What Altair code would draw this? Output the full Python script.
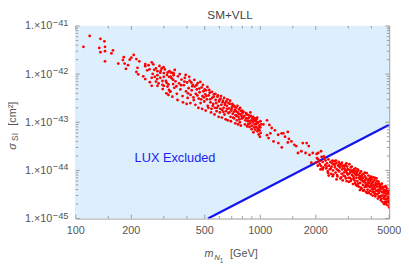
import altair as alt
import pandas as pd

# ---------------- data ----------------
# scan points: m_N1 [GeV] and sigma_SI [cm^2]
mass_a = [110, 119, 136, 143, 134, 144, 144, 136, 159, 156, 144]
sigma_a = [3.7e-42, 6.2e-42, 5.4e-42, 4.8e-42, 3.5e-42, 3.7e-42, 3.0e-42, 2.85e-42, 3.1e-42, 2.7e-42, 1.84e-42]

mass_b = [182, 206, 200, 196, 213, 180, 221, 170, 184, 192, 187, 238, 258, 248, 238, 216, 213, 218, 251, 261, 258, 238]
sigma_b = [2.25e-42, 2.5e-42, 2.2e-42, 2.0e-42, 2.05e-42, 1.96e-42, 1.84e-42, 1.66e-42, 1.66e-42, 1.53e-42, 1.29e-42,
           1.62e-42, 1.76e-42, 1.53e-42, 1.46e-42, 1.35e-42, 1.11e-42, 9.9e-43, 1.26e-42, 1.01e-42, 8.4e-43, 7.9e-43]

mass_c = [272, 266, 284, 277, 292, 299, 287, 300, 315, 328, 339, 277, 276, 287, 300, 320, 339, 272, 295, 308,
          337, 314, 300, 295, 277, 258, 320, 310, 326, 337]
sigma_c = [1.31e-42, 1.23e-42, 1.48e-42, 1.15e-42, 1.31e-42, 1.39e-42, 1.07e-42, 1.05e-42, 1.08e-42, 1.07e-42,
           1.04e-42, 9.5e-43, 7.9e-43, 8.4e-43, 8.8e-43, 8.8e-43, 9.5e-43, 7.0e-43, 7.2e-43, 7.2e-43,
           7.6e-43, 5.5e-43, 5.7e-43, 6.0e-43, 5.7e-43, 5.7e-43, 4.7e-43, 4.0e-43, 4.4e-43, 6.2e-43]

mass_d = [312, 318, 324, 331, 336, 342, 347, 353, 358, 363, 369, 374, 379, 385, 390, 396, 401, 404,
          409, 414, 419, 425, 431, 436, 442, 447, 453, 458, 464, 469, 475, 481, 486, 492, 497, 503,
          508, 514, 519, 526, 532, 537, 544, 549, 556, 561, 568, 573, 580, 586, 591, 598, 604,
          609, 615, 621, 628, 633, 640, 646, 652, 659, 664, 671, 677, 684, 690, 696, 703,
          709, 716, 722, 729, 735, 742, 748, 755, 762, 768, 775, 781, 788, 795, 802]
sigma_d = [9.6e-43, 6.1e-43, 4.3e-43, 8.2e-43, 1.06e-42, 5.2e-43, 7.1e-43, 3.9e-43, 9.0e-43, 6.4e-43,
           4.8e-43, 7.7e-43, 3.5e-43, 5.9e-43, 8.4e-43, 4.4e-43, 6.7e-43, 3.2e-43,
           5.1e-43, 7.3e-43, 3.7e-43, 4.6e-43, 6.0e-43, 2.9e-43, 5.5e-43, 3.9e-43, 4.8e-43, 6.5e-43,
           3.1e-43, 4.2e-43, 2.5e-43, 5.3e-43, 3.5e-43, 4.4e-43, 2.7e-43, 3.8e-43,
           4.6e-43, 3.0e-43, 2.2e-43, 3.6e-43, 4.1e-43, 2.6e-43, 1.9e-43, 3.2e-43, 2.4e-43, 3.8e-43,
           2.0e-43, 2.9e-43, 1.7e-43, 3.4e-43, 2.2e-43, 2.7e-43, 1.6e-43,
           3.1e-43, 2.3e-43, 1.8e-43, 2.8e-43, 2.0e-43, 1.45e-43, 2.5e-43, 1.7e-43, 2.2e-43, 3.0e-43,
           1.55e-43, 1.95e-43, 2.4e-43, 1.3e-43, 1.75e-43, 2.1e-43,
           1.5e-43, 2.25e-43, 1.2e-43, 1.8e-43, 1.4e-43, 2.0e-43, 1.1e-43, 1.6e-43, 1.3e-43, 1.85e-43,
           1.0e-43, 1.45e-43, 1.7e-43, 1.2e-43, 1.55e-43]

mass_l = [232, 244, 252, 263, 268, 281, 289, 296, 304, 311, 318, 322,
          327, 334, 344, 351, 356, 366, 372, 381, 388, 394, 399, 406, 412, 418,
          423, 428, 434, 439, 445, 451, 456, 462, 467, 473, 478, 484, 489, 495, 500, 506, 511, 517,
          523, 529, 535, 541, 547, 553, 559, 565, 571, 577, 583, 589, 595, 601, 607, 613, 619, 625,
          631, 637, 643, 649,
          655, 661, 667, 673, 680, 686, 693, 699, 706, 712, 719, 726, 732, 739, 745, 752, 758, 765,
          771, 778, 785, 792, 798]
sigma_l = [9.0e-43, 1.2e-42, 6.8e-43, 1.6e-42, 8.8e-43, 6.4e-43, 1.18e-42, 4.9e-43, 1.25e-42, 6.6e-43,
           3.7e-43, 1.15e-42,
           8.9e-43, 3.4e-43, 1.22e-42, 5.6e-43, 2.9e-43, 1.0e-42, 5.9e-43, 2.6e-43, 7.0e-43, 9.6e-43,
           2.4e-43, 4.0e-43, 8.8e-43, 2.5e-43,
           6.7e-43, 5.6e-43, 3.3e-43, 7.6e-43, 2.3e-43, 5.9e-43, 3.6e-43, 2.0e-43, 5.0e-43, 6.9e-43,
           3.0e-43, 1.9e-43, 6.0e-43, 3.3e-43, 4.8e-43, 1.75e-43, 3.5e-43, 5.4e-43,
           2.0e-43, 4.7e-43, 3.0e-43, 1.6e-43, 4.3e-43, 2.2e-43, 3.4e-43, 1.45e-43, 3.9e-43, 2.5e-43,
           2.0e-43, 3.6e-43, 1.3e-43, 2.9e-43, 1.9e-43, 3.5e-43, 1.25e-43, 2.6e-43, 1.65e-43, 3.2e-43,
           2.3e-43, 1.15e-43,
           2.7e-43, 1.9e-43, 1.1e-43, 2.5e-43, 1.6e-43, 2.8e-43, 1.05e-43, 1.9e-43, 2.4e-43, 1.25e-43,
           1.65e-43, 2.1e-43, 9.5e-44, 1.7e-43, 1.35e-43, 2.2e-43, 9.0e-44, 1.5e-43, 1.15e-43, 2.0e-43,
           8.5e-44, 1.35e-43, 1.75e-43]

mass_e = [840, 855, 870, 880, 895, 900, 910, 920, 930, 945, 950, 960, 970, 985, 990, 1000, 965, 940, 925, 875,
          860, 980, 995, 1005, 955, 915, 890, 865, 845, 820, 830, 810, 1010, 975, 935,
          812, 826, 838, 848, 858, 872, 884, 898, 906, 918, 928, 948, 962, 978, 1002]
sigma_e = [1.2e-43, 1.05e-43, 1.25e-43, 9.5e-44, 1.1e-43, 8.5e-44, 1.0e-43, 1.15e-43, 9.0e-44, 1.05e-43,
           8.0e-44, 9.5e-44, 7.5e-44, 8.5e-44, 6.8e-44, 7.8e-44, 6.5e-44, 7.0e-44, 7.8e-44, 8.0e-44,
           9.0e-44, 5.6e-44, 5.0e-44, 6.0e-44, 1.15e-43, 1.3e-43, 1.35e-43, 1.4e-43, 1.45e-43, 1.35e-43,
           1.1e-43, 1.25e-43, 9.0e-44, 1.0e-43, 1.2e-43,
           1.65e-43, 9.0e-44, 1.55e-43, 8.2e-44, 1.2e-43, 1.05e-43, 1.6e-43, 7.2e-44, 1.22e-43, 6.2e-44,
           1.08e-43, 9.2e-44, 1.25e-43, 7.0e-44, 1.05e-43]

mass_f = [1088, 1088, 1153, 1110, 1180, 1253, 1333, 1410, 1362, 1430, 1410, 1308, 1530, 1475, 1601, 1670, 1785,
          1832, 1760, 1848, 1925, 2030, 2062, 2135, 1890, 2000, 2135, 2180, 1040, 1120, 1200, 1250, 1134, 1305,
          1567, 1700]
sigma_f = [1.1e-43, 5.4e-44, 7.6e-44, 4.7e-44, 4.0e-44, 3.7e-44, 5.9e-44, 6.3e-44, 5.0e-44, 4.5e-44,
           3.8e-44, 3.0e-44, 3.4e-44, 4.0e-44, 2.3e-44, 2.5e-44, 3.7e-44, 3.2e-44, 2.3e-44, 2.1e-44,
           2.3e-44, 1.8e-44, 2.3e-44, 2.5e-44, 1.45e-44, 1.45e-44, 1.23e-44, 1.05e-44, 9.0e-44, 8.8e-44,
           6.8e-44, 5.5e-44, 5.9e-44, 5.9e-44, 3.2e-44, 3.7e-44]

mass_g = [2020, 2060, 2100, 2150, 2180, 2200, 2230, 2050, 2120, 2250,
          2260, 2280, 2300, 2320, 2340, 2360, 2380, 2400, 2420, 2440, 2460, 2480, 2500, 2350, 2470,
          2520, 2540, 2560, 2580, 2600, 2620, 2640, 2660, 2680, 2700, 2720, 2740, 2760, 2780, 2800, 2820, 2840,
          2590, 2690, 2770]
sigma_g = [2.2e-44, 1.7e-44, 1.35e-44, 1.9e-44, 1.5e-44, 1.15e-44, 1.75e-44, 1.25e-44, 1.05e-44, 1.3e-44,
           1.6e-44, 1.1e-44, 1.4e-44, 9.5e-45, 1.7e-44, 1.25e-44, 1.05e-44, 1.5e-44, 8.5e-45, 1.2e-44,
           1.6e-44, 1.0e-44, 1.35e-44, 7.8e-45, 7.6e-45,
           1.55e-44, 1.15e-44, 9.0e-45, 1.4e-44, 1.05e-44, 7.5e-45, 1.25e-44, 1.5e-44, 9.5e-45, 1.15e-44,
           6.8e-45, 1.35e-44, 8.5e-45, 1.05e-44, 6.2e-45, 1.25e-44, 9.0e-45, 6.5e-45, 1.35e-44, 1.45e-44]

mass_h = [2860, 2880, 2900, 2920, 2940, 2960, 2980, 3000, 3020, 3040, 3060, 3080, 3100, 3120, 3140, 3160, 3180,
          3200, 2890, 2950, 3010, 3070, 3130, 3190, 2930,
          3220, 3240, 3260, 3280, 3300, 3320, 3340, 3360, 3380, 3400, 3420, 3440, 3460, 3480, 3500, 3520, 3540,
          3560, 3580, 3600, 3620, 3250, 3310, 3370, 3430, 3490, 3550, 3610, 3350, 3470]
sigma_h = [1.1e-44, 7.5e-45, 1.3e-44, 9.5e-45, 6.0e-45, 1.2e-44, 8.2e-45, 1.05e-44, 5.8e-45, 1.35e-44,
           7.0e-45, 9.0e-45, 1.15e-44, 6.5e-45, 8.0e-45, 1.0e-44, 5.2e-45, 7.5e-45, 1.0e-44, 8.8e-45,
           7.0e-45, 1.0e-44, 1.2e-44, 9.0e-45, 1.4e-44,
           1.05e-44, 6.2e-45, 8.5e-45, 1.1e-44, 5.0e-45, 7.0e-45, 9.5e-45, 6.0e-45, 8.0e-45, 1.0e-44,
           4.6e-45, 6.8e-45, 8.8e-45, 5.5e-45, 7.5e-45, 9.5e-45, 4.2e-45, 6.2e-45, 8.2e-45, 5.0e-45,
           7.0e-45, 9.5e-45, 8.0e-45, 1.05e-44, 8.0e-45, 6.5e-45, 7.8e-45, 3.8e-45, 4.8e-45, 3.9e-45]

mass_i = [3640, 3660, 3680, 3700, 3720, 3740, 3760, 3780, 3800, 3820, 3840, 3860, 3880, 3900, 3920, 3940, 3960,
          3980, 4000, 4020, 4040, 4060, 4080, 4100, 3650, 3710, 3770, 3830, 3890, 3950, 4010, 4070, 3690, 3850,
          3990]
sigma_i = [8.5e-45, 6.0e-45, 4.5e-45, 7.5e-45, 5.5e-45, 3.6e-45, 6.8e-45, 8.8e-45, 5.0e-45, 4.0e-45,
           6.2e-45, 7.8e-45, 3.4e-45, 5.5e-45, 4.5e-45, 7.0e-45, 6.0e-45, 3.2e-45, 5.0e-45, 6.5e-45,
           4.2e-45, 3.6e-45, 5.8e-45, 7.2e-45, 3.9e-45, 6.3e-45, 4.6e-45, 5.6e-45, 6.6e-45, 3.8e-45,
           4.6e-45, 3.0e-45, 9.0e-45, 3.5e-45, 7.4e-45]

mass_j = [4120, 4140, 4160, 4180, 4200, 4220, 4240, 4260, 4280, 4300, 4320, 4340, 4360, 4380, 4400, 4420, 4440,
          4460, 4480, 4500, 4520, 4540, 4560, 4580, 4600, 4620, 4640, 4150, 4230, 4310, 4390, 4470, 4550, 4190,
          4410]
sigma_j = [5.0e-45, 3.5e-45, 6.2e-45, 4.2e-45, 2.9e-45, 5.5e-45, 3.8e-45, 6.8e-45, 4.6e-45, 3.2e-45,
           5.2e-45, 2.6e-45, 4.0e-45, 5.8e-45, 3.4e-45, 4.6e-45, 2.8e-45, 5.0e-45, 3.8e-45, 2.4e-45,
           4.2e-45, 3.0e-45, 5.3e-45, 3.5e-45, 2.2e-45, 4.4e-45, 3.0e-45, 4.5e-45, 3.2e-45, 6.0e-45,
           2.9e-45, 4.4e-45, 2.6e-45, 7.0e-45, 5.2e-45]

mass_k = [4660, 4680, 4700, 4720, 4740, 4760, 4780, 4800, 4820, 4840, 4860, 4880, 4900, 4920, 4940, 4960, 4980,
          5000, 4970, 4910, 4850, 4790, 4730, 4690, 4990]
sigma_k = [4.0e-45, 2.6e-45, 3.4e-45, 4.6e-45, 2.2e-45, 3.0e-45, 3.9e-45, 2.0e-45, 3.3e-45, 4.3e-45,
           2.5e-45, 3.6e-45, 1.9e-45, 2.9e-45, 4.0e-45, 2.3e-45, 3.2e-45, 1.7e-45, 3.7e-45, 2.7e-45,
           2.2e-45, 4.7e-45, 3.7e-45, 2.0e-45, 2.6e-45]

mass_m = [2090, 2170, 2210, 2290, 2330, 2410, 2450, 2490, 2530, 2570,
          2610, 2650, 2710, 2750, 2790, 2830, 2870, 2910, 2970, 3030,
          3090, 3150, 3210, 3270, 3330, 3390, 3450, 3510, 3570, 3630,
          3730, 3790, 3870, 3930, 4030, 4090, 4170, 4250, 4330, 4430,
          4490, 4570, 4630, 4710, 4770, 4830, 4890, 4950, 4995, 4985]
sigma_m = [1.55e-44, 1.1e-44, 1.95e-44, 1.2e-44, 8.8e-45, 1.1e-44, 1.4e-44, 8.2e-45, 1.3e-44, 1.6e-44,
           8.0e-45, 1.0e-44, 1.3e-44, 7.2e-45, 1.2e-44, 7.8e-45, 1.25e-44, 6.8e-45, 1.05e-44, 8.5e-45,
           6.0e-45, 9.5e-45, 6.8e-45, 5.5e-45, 8.8e-45, 5.3e-45, 7.2e-45, 4.4e-45, 7.0e-45, 5.8e-45,
           4.9e-45, 3.4e-45, 4.8e-45, 6.4e-45, 5.4e-45, 4.0e-45, 3.3e-45, 5.0e-45, 3.7e-45, 3.9e-45,
           2.9e-45, 4.6e-45, 3.6e-45, 2.8e-45, 2.5e-45, 3.8e-45, 3.0e-45, 3.4e-45, 2.1e-45, 3.9e-45]

# LUX exclusion line
lux_mass = [521, 5000]
lux_sigma = [1.0e-45, 8.9e-44]

# axes
x_domain = [100, 5000]
y_domain = [1e-45, 1e-41]
x_major = [100, 200, 500, 1000, 2000, 5000]
x_major_labels = ["100", "200", "500", "1000", "2000", "5000"]
x_minor = [150, 300, 400, 600, 700, 800, 900, 1500, 3000, 4000]
y_major = [1e-45, 1e-44, 1e-43, 1e-42, 1e-41]
y_major_exps = ["\u221245", "\u221244", "\u221243", "\u221242", "\u221241"]
y_minor = [2e-45, 3e-45, 4e-45, 5e-45, 6e-45, 7e-45, 8e-45, 9e-45,
           2e-44, 3e-44, 4e-44, 5e-44, 6e-44, 7e-44, 8e-44, 9e-44,
           2e-43, 3e-43, 4e-43, 5e-43, 6e-43, 7e-43, 8e-43, 9e-43,
           2e-42, 3e-42, 4e-42, 5e-42, 6e-42, 7e-42, 8e-42, 9e-42]

# ---------------- chart ----------------
mass = (mass_a + mass_b + mass_c + mass_d + mass_l + mass_e + mass_f + mass_g + mass_h + mass_i + mass_j
        + mass_k + mass_m)
sigma = (sigma_a + sigma_b + sigma_c + sigma_d + sigma_l + sigma_e + sigma_f + sigma_g + sigma_h + sigma_i
         + sigma_j + sigma_k + sigma_m)
pts = pd.DataFrame({"m": mass, "s": sigma})

W, H = 319, 196
FONT = "Liberation Sans"
GRAY = "#555555"
FRAME = "#9a9a9a"

xs = alt.Scale(type="log", domain=x_domain, nice=False)
ys = alt.Scale(type="log", domain=y_domain, nice=False)

region = pd.DataFrame({"m": [x_domain[0]] + lux_mass,
                       "lo": [y_domain[0]] + lux_sigma,
                       "hi": [y_domain[1]] * (len(lux_mass) + 1)})
area = alt.Chart(region).mark_area(color="#ddeefd", opacity=1, clip=True).encode(
    x=alt.X("m:Q", scale=xs, axis=None),
    y=alt.Y("lo:Q", scale=ys, axis=None),
    y2="hi:Q",
)

lux = pd.DataFrame({"m": lux_mass, "s": lux_sigma})
line = alt.Chart(lux).mark_line(color="#1414f0", strokeWidth=2.2, clip=True).encode(
    x=alt.X("m:Q", scale=xs, axis=None),
    y=alt.Y("s:Q", scale=ys, axis=None),
)

points = alt.Chart(pts).mark_circle(size=8, color="#ff0000", opacity=1, clip=True).encode(
    x=alt.X("m:Q", scale=xs, axis=None),
    y=alt.Y("s:Q", scale=ys, axis=None),
)

def xticks(vals, length):
    d = pd.DataFrame({"v": vals})
    bot = alt.Chart(d).mark_rule(color=FRAME, strokeWidth=1).encode(
        x=alt.X("v:Q", scale=xs, axis=None), y=alt.value(H), y2=alt.value(H - length))
    top = alt.Chart(d).mark_rule(color=FRAME, strokeWidth=1).encode(
        x=alt.X("v:Q", scale=xs, axis=None), y=alt.value(0), y2=alt.value(length))
    return [bot, top]

def yticks(vals, length):
    d = pd.DataFrame({"v": vals})
    left = alt.Chart(d).mark_rule(color=FRAME, strokeWidth=1).encode(
        y=alt.Y("v:Q", scale=ys, axis=None), x=alt.value(0), x2=alt.value(length))
    right = alt.Chart(d).mark_rule(color=FRAME, strokeWidth=1).encode(
        y=alt.Y("v:Q", scale=ys, axis=None), x=alt.value(W), x2=alt.value(W - length))
    return [left, right]

ticks = xticks(x_major, 4) + xticks(x_minor, 2.5) + yticks(y_major, 4) + yticks(y_minor, 2.5)

xlab = alt.Chart(pd.DataFrame({"v": x_major, "t": x_major_labels})).mark_text(
    font=FONT, fontSize=11, color=GRAY, align="center", baseline="middle").encode(
    x=alt.X("v:Q", scale=xs, axis=None), y=alt.value(H + 13), text="t:N")

ylab_base = alt.Chart(pd.DataFrame({"v": y_major})).mark_text(
    font=FONT, fontSize=11, color=GRAY, align="right", baseline="middle", dy=0.5).encode(
    y=alt.Y("v:Q", scale=ys, axis=None), x=alt.value(-24), text=alt.value("1.\u00d710"))
ylab_exp = alt.Chart(pd.DataFrame({"v": y_major, "e": y_major_exps})).mark_text(
    font=FONT, fontSize=9.5, color=GRAY, align="left", baseline="middle", dy=-3).encode(
    y=alt.Y("v:Q", scale=ys, axis=None), x=alt.value(-23.5), text="e:N")

def txt(t, x, y, size, **kw):
    return alt.Chart(pd.DataFrame({"t": [t]})).mark_text(font=FONT, fontSize=size, **kw).encode(
        text="t:N", x=alt.value(x), y=alt.value(y))

title = txt("SM+VLL", 157, -11, 12, color="#444444", align="center", baseline="middle")
lux_text = txt("LUX Excluded", 101, 134, 13, color="#1e1ef0", align="center", baseline="middle")

xt = [
    txt("m", 131, 235, 11, color=GRAY, fontStyle="italic", align="left", baseline="alphabetic"),
    txt("N", 141, 238.5, 8, color=GRAY, fontStyle="italic", align="left", baseline="alphabetic"),
    txt("1", 146.5, 241, 6.5, color=GRAY, align="left", baseline="alphabetic"),
    txt("[GeV]", 157, 235, 11, color=GRAY, align="left", baseline="alphabetic"),
]
yt = [
    txt("\u03c3", -61, 126, 11, color=GRAY, fontStyle="italic", align="left", baseline="alphabetic", angle=270),
    txt("SI", -59, 117, 8.5, color=GRAY, align="left", baseline="alphabetic", angle=270),
    txt("[cm\u00b2]", -61, 101.5, 11, color=GRAY, align="left", baseline="alphabetic", angle=270),
]

chart = alt.layer(
    area, line, points, *ticks, xlab, ylab_base, ylab_exp, title, lux_text, *xt, *yt
).properties(
    width=W, height=H,
    autosize=alt.AutoSizeParams(type="none"),
    padding={"left": 69, "top": 16, "right": 12, "bottom": 46},
).configure_view(stroke=FRAME, strokeWidth=1)

chart.save("out.html", embed_options={"renderer": "svg", "actions": False})
